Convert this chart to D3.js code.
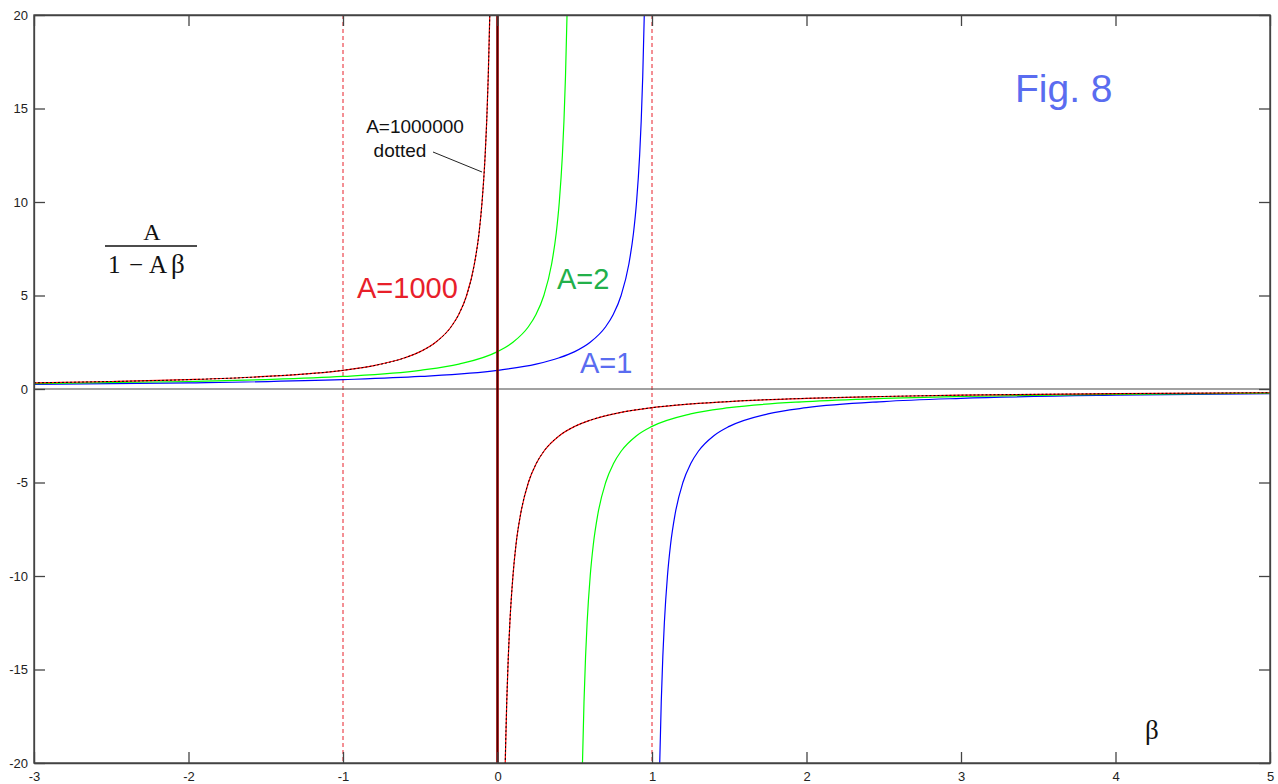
<!DOCTYPE html>
<html>
<head>
<meta charset="utf-8">
<script src="https://cdn.jsdelivr.net/npm/d3@7"></script>
<style>
  body { margin: 0; background: #fff; }
  svg { display: block; }
  .label-text { font-family: Arial, "Liberation Sans", sans-serif; }
  .math { font-family: "Times New Roman", "Liberation Serif", serif; fill: #111; }
</style>
</head>
<body>
<svg class="fig8"></svg>
<script>
// axis ticks
const xTicks = [-3, -2, -1, 0, 1, 2, 3, 4, 5]
const yTicks = [-20, -15, -10, -5, 0, 5, 10, 15, 20]

// A = 1 (blue)
const a1LeftBeta  = [-3, -2, -1, -0.5, 0, 0.25, 0.4, 0.5, 0.6, 0.7, 0.75, 0.8, 0.85, 0.88, 0.9, 0.92, 0.93, 0.94, 0.95, 0.96]
const a1LeftY     = [0.25, 0.33, 0.5, 0.67, 1, 1.33, 1.67, 2, 2.5, 3.33, 4, 5, 6.67, 8.33, 10, 12.5, 14.3, 16.7, 20, 25]
const a1RightBeta = [1.04, 1.05, 1.06, 1.07, 1.08, 1.1, 1.12, 1.15, 1.2, 1.25, 1.3, 1.4, 1.5, 1.75, 2, 2.5, 3, 4, 5]
const a1RightY    = [-25, -20, -16.7, -14.3, -12.5, -10, -8.33, -6.67, -5, -4, -3.33, -2.5, -2, -1.33, -1, -0.67, -0.5, -0.33, -0.25]

// A = 2 (green)
const a2LeftBeta  = [-3, -2, -1.5, -1, -0.5, -0.25, 0, 0.1, 0.2, 0.25, 0.3, 0.35, 0.38, 0.4, 0.42, 0.43, 0.44, 0.45, 0.46]
const a2LeftY     = [0.29, 0.4, 0.5, 0.67, 1, 1.33, 2, 2.5, 3.33, 4, 5, 6.67, 8.33, 10, 12.5, 14.3, 16.7, 20, 25]
const a2RightBeta = [0.54, 0.55, 0.56, 0.57, 0.58, 0.6, 0.62, 0.65, 0.7, 0.75, 0.8, 0.9, 1, 1.25, 1.5, 2, 2.5, 3, 4, 5]
const a2RightY    = [-25, -20, -16.7, -14.3, -12.5, -10, -8.33, -6.67, -5, -4, -3.33, -2.5, -2, -1.33, -1, -0.67, -0.5, -0.4, -0.29, -0.22]

// A = 1000 (red) and A = 1000000 (black dotted) lie on top of each other
const a1000LeftBeta  = [-3, -2.5, -2, -1.5, -1, -0.8, -0.6, -0.5, -0.4, -0.3, -0.25, -0.2, -0.15, -0.12, -0.1, -0.08, -0.07, -0.06, -0.05, -0.045]
const a1000LeftY     = [0.33, 0.4, 0.5, 0.67, 1, 1.25, 1.67, 2, 2.5, 3.33, 4, 5, 6.67, 8.3, 10, 12.5, 14.3, 16.7, 20, 22.2]
const a1000RightBeta = [0.045, 0.05, 0.06, 0.07, 0.08, 0.1, 0.12, 0.15, 0.2, 0.25, 0.3, 0.4, 0.5, 0.6, 0.8, 1, 1.5, 2, 2.5, 3, 4, 5]
const a1000RightY    = [-22.2, -20, -16.7, -14.3, -12.5, -10, -8.3, -6.67, -5, -4, -3.33, -2.5, -2, -1.67, -1.25, -1, -0.67, -0.5, -0.4, -0.33, -0.25, -0.2]
const crossBeta = [0, 0]
const crossY    = [25, -25]

const a1e6LeftBeta  = a1000LeftBeta
const a1e6LeftY     = [0.33, 0.4, 0.5, 0.67, 1, 1.25, 1.67, 2, 2.5, 3.33, 4, 5, 6.67, 8.3, 10, 12.5, 14.3, 16.7, 20, 22.2]
const a1e6RightBeta = a1000RightBeta
const a1e6RightY    = [-22.2, -20, -16.7, -14.3, -12.5, -10, -8.3, -6.67, -5, -4, -3.33, -2.5, -2, -1.67, -1.25, -1, -0.67, -0.5, -0.4, -0.33, -0.25, -0.2]

// reference lines at beta = -1 and 1
const guideBeta = [-1, 1]

const W = 1278, H = 784
const M = { left: 34, right: 8, top: 15, bottom: 21 }
const WIDTH = W - M.left - M.right
const HEIGHT = H - M.top - M.bottom

const zip = (xs, ys) => xs.map((x, i) => [x, ys[i]])

const svg = d3.select('svg.fig8').attr('width', W).attr('height', H)
const chart = svg.append('g').attr('transform', `translate(${M.left}, ${M.top})`)

const xScale = d3.scaleLinear().domain([-3, 5]).range([0, WIDTH])
const yScale = d3.scaleLinear().domain([-20, 20]).range([HEIGHT, 0])

svg.append('defs').append('clipPath').attr('id', 'plot-clip')
  .append('rect').attr('width', WIDTH).attr('height', HEIGHT)

// dashed guide lines
chart.selectAll('.guide')
  .data(guideBeta)
  .enter()
  .append('line')
  .attr('x1', d => xScale(d)).attr('x2', d => xScale(d))
  .attr('y1', 0).attr('y2', HEIGHT)
  .style('stroke', '#e8202a')
  .style('stroke-width', 1)
  .style('stroke-dasharray', '4,3')

// zero line
chart.append('line')
  .attr('x1', 0).attr('x2', WIDTH)
  .attr('y1', yScale(0)).attr('y2', yScale(0))
  .style('stroke', '#444').style('stroke-width', 1.2)

const line = d3.line()
  .x(d => xScale(d[0]))
  .y(d => yScale(d[1]))
  .curve(d3.curveMonotoneX)

const straight = d3.line().x(d => xScale(d[0])).y(d => yScale(d[1]))

const curves = chart.append('g').attr('clip-path', 'url(#plot-clip)')

const series = [
  { segs: [zip(a1LeftBeta, a1LeftY), zip(a1RightBeta, a1RightY)], color: '#0000ff', width: 1.2 },
  { segs: [zip(a2LeftBeta, a2LeftY), zip(a2RightBeta, a2RightY)], color: '#00ff00', width: 1.2 },
  { segs: [zip(a1000LeftBeta, a1000LeftY), zip(a1000RightBeta, a1000RightY)], color: '#ff0000', width: 1.2 },
  { segs: [zip(a1e6LeftBeta, a1e6LeftY), zip(a1e6RightBeta, a1e6RightY)], color: '#000', width: 1, dash: '2,2' }
]

series.forEach(s => {
  curves.selectAll(null)
    .data(s.segs)
    .enter()
    .append('path')
    .attr('d', line)
    .style('fill', 'none')
    .style('stroke', s.color)
    .style('stroke-width', s.width)
    .style('stroke-dasharray', s.dash || null)
})

// near-vertical jump through beta = 0 (A=1000 and A=1000000)
curves.append('path')
  .attr('d', straight(zip(crossBeta, crossY)))
  .style('stroke', '#a00000').style('stroke-width', 2.6)
curves.append('path')
  .attr('d', straight(zip(crossBeta, crossY)))
  .style('stroke', '#4a0000').style('stroke-width', 1.3)

// axes with inward ticks, box style
const fmt = d => String(d)
chart.append('g')
  .attr('class', 'axis')
  .attr('transform', `translate(0, ${HEIGHT})`)
  .call(d3.axisBottom(xScale).tickValues(xTicks).tickSizeInner(-11).tickSizeOuter(0).tickPadding(9).tickFormat(fmt))
chart.append('g')
  .attr('class', 'axis')
  .call(d3.axisLeft(yScale).tickValues(yTicks).tickSizeInner(-11).tickSizeOuter(0).tickPadding(6).tickFormat(fmt))
chart.append('g')
  .call(d3.axisTop(xScale).tickValues(xTicks).tickSizeInner(-11).tickSizeOuter(0).tickFormat(''))
chart.append('g')
  .attr('transform', `translate(${WIDTH}, 0)`)
  .call(d3.axisRight(yScale).tickValues(yTicks).tickSizeInner(-11).tickSizeOuter(0).tickFormat(''))

chart.selectAll('.domain, .tick line').style('stroke', '#444').style('stroke-width', 1.3)
chart.selectAll('.axis .tick text')
  .style('font-family', 'Arial, "Liberation Sans", sans-serif')
  .style('font-size', '13px')
  .style('fill', '#222')

// frame
chart.append('rect')
  .attr('width', WIDTH).attr('height', HEIGHT)
  .style('fill', 'none').style('stroke', '#444').style('stroke-width', 1.4)

// labels
svg.append('text').attr('class', 'label-text')
  .attr('x', 357).attr('y', 298)
  .style('font-size', '29px').style('fill', '#e8202a')
  .text('A=1000')
svg.append('text').attr('class', 'label-text')
  .attr('x', 557).attr('y', 289)
  .style('font-size', '29px').style('fill', '#22b04a')
  .text('A=2')
svg.append('text').attr('class', 'label-text')
  .attr('x', 580).attr('y', 373)
  .style('font-size', '29px').style('fill', '#5a6cf0')
  .text('A=1')
svg.append('text').attr('class', 'label-text')
  .attr('x', 1015).attr('y', 102)
  .style('font-size', '39px').style('fill', '#5a6cf0')
  .text('Fig. 8')

svg.append('text').attr('class', 'label-text')
  .attr('x', 415).attr('y', 133).attr('text-anchor', 'middle')
  .style('font-size', '19px').style('fill', '#111')
  .text('A=1000000')
svg.append('text').attr('class', 'label-text')
  .attr('x', 400).attr('y', 157).attr('text-anchor', 'middle')
  .style('font-size', '19px').style('fill', '#111')
  .text('dotted')
svg.append('line')
  .attr('x1', 433).attr('y1', 152).attr('x2', 482).attr('y2', 172)
  .style('stroke', '#222').style('stroke-width', 1)

// y formula
svg.append('text').attr('class', 'math')
  .attr('x', 152).attr('y', 240).attr('text-anchor', 'middle')
  .style('font-size', '24px')
  .text('A')
svg.append('line')
  .attr('x1', 105).attr('x2', 197).attr('y1', 246).attr('y2', 246)
  .style('stroke', '#111').style('stroke-width', 1.6)
const den = svg.append('text').attr('class', 'math')
  .attr('y', 273)
  .style('font-size', '25px')
den.append('tspan').attr('x', 108).text('1')
den.append('tspan').attr('x', 129).text('−')
den.append('tspan').attr('x', 149).text('A')
den.append('tspan').attr('x', 171).style('font-size', '27px').text('β')

// x label
svg.append('text').attr('class', 'math')
  .attr('x', 1145).attr('y', 739)
  .style('font-size', '27px')
  .text('β')
</script>
</body>
</html>
